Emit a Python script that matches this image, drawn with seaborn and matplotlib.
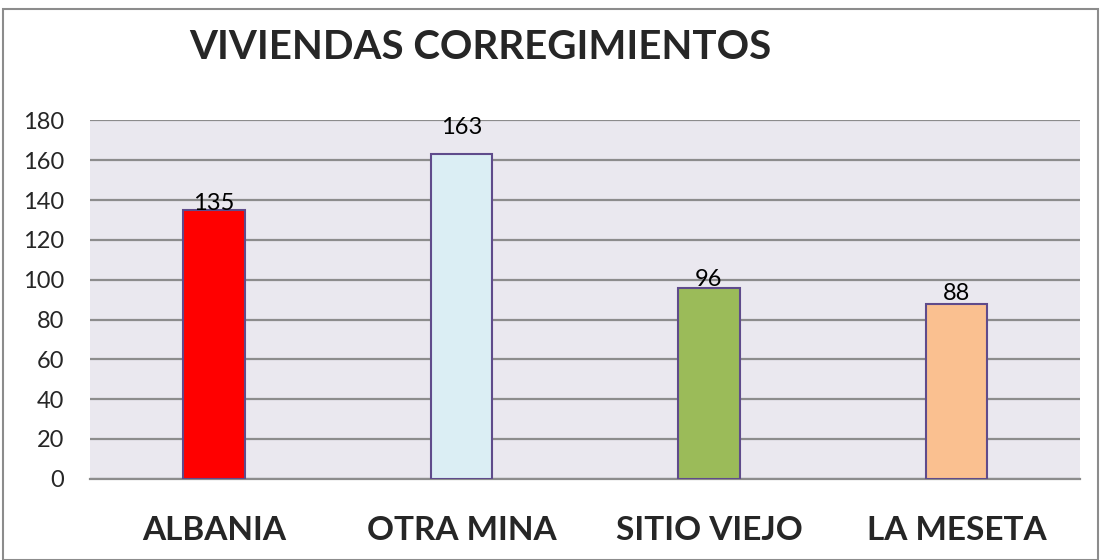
import matplotlib
matplotlib.use("Agg")
import matplotlib.pyplot as plt
import seaborn as sns
import pandas as pd

sns.set_theme(style="white")
plt.rcParams['font.family'] = ['Lato', 'DejaVu Sans']

# datos
corregimientos = ["ALBANIA", "OTRA MINA", "SITIO VIEJO", "LA MESETA"]
viviendas = [135, 163, 96, 88]
colores = ["#FF0000", "#DBEEF4", "#9BBB59", "#FAC090"]
offsets = [-3, 12, -2, 0]

df = pd.DataFrame({"corr": corregimientos, "viv": viviendas})

fig = plt.figure(figsize=(11, 5.6), dpi=100)
ax = fig.add_axes([0.082, 0.145, 0.900, 0.64])

sns.barplot(data=df, x="corr", y="viv", hue="corr", palette=colores,
            saturation=1, width=0.25, edgecolor="#5F4B8B", linewidth=1.5,
            legend=False, zorder=3, ax=ax)

ax.set_facecolor("#EAE8EF")
ax.set_ylim(0, 180)
ax.set_yticks(range(0, 181, 20))
ax.yaxis.grid(True, color="#8C8C8C", linewidth=1.6, zorder=0)
ax.set_axisbelow(True)
for s in ["top", "right", "left"]:
    ax.spines[s].set_visible(False)
ax.spines["bottom"].set_color("#8C8C8C")
ax.spines["bottom"].set_linewidth(1.6)
ax.tick_params(axis="y", labelsize=17, pad=19, length=0)
ax.tick_params(axis="x", labelsize=24, pad=27, length=0)
for lbl in ax.get_xticklabels():
    lbl.set_fontweight("bold")
ax.set_xlabel("")
ax.set_ylabel("")

for i, (v, off) in enumerate(zip(viviendas, offsets)):
    ax.annotate(str(v), (i, v), xytext=(0, off), textcoords="offset points",
                ha="center", va="bottom", fontsize=17, color="black", zorder=4)

fig.text(0.437, 0.915, "VIVIENDAS CORREGIMIENTOS", ha="center", va="center",
         fontsize=29, fontweight="bold")

# marco exterior
fig.patches.append(plt.Rectangle((0.003, 0.0), 0.995, 0.984, transform=fig.transFigure,
                                 fill=False, edgecolor="#8C8C8C", linewidth=1.5))

fig.savefig("out.png", dpi=100)
